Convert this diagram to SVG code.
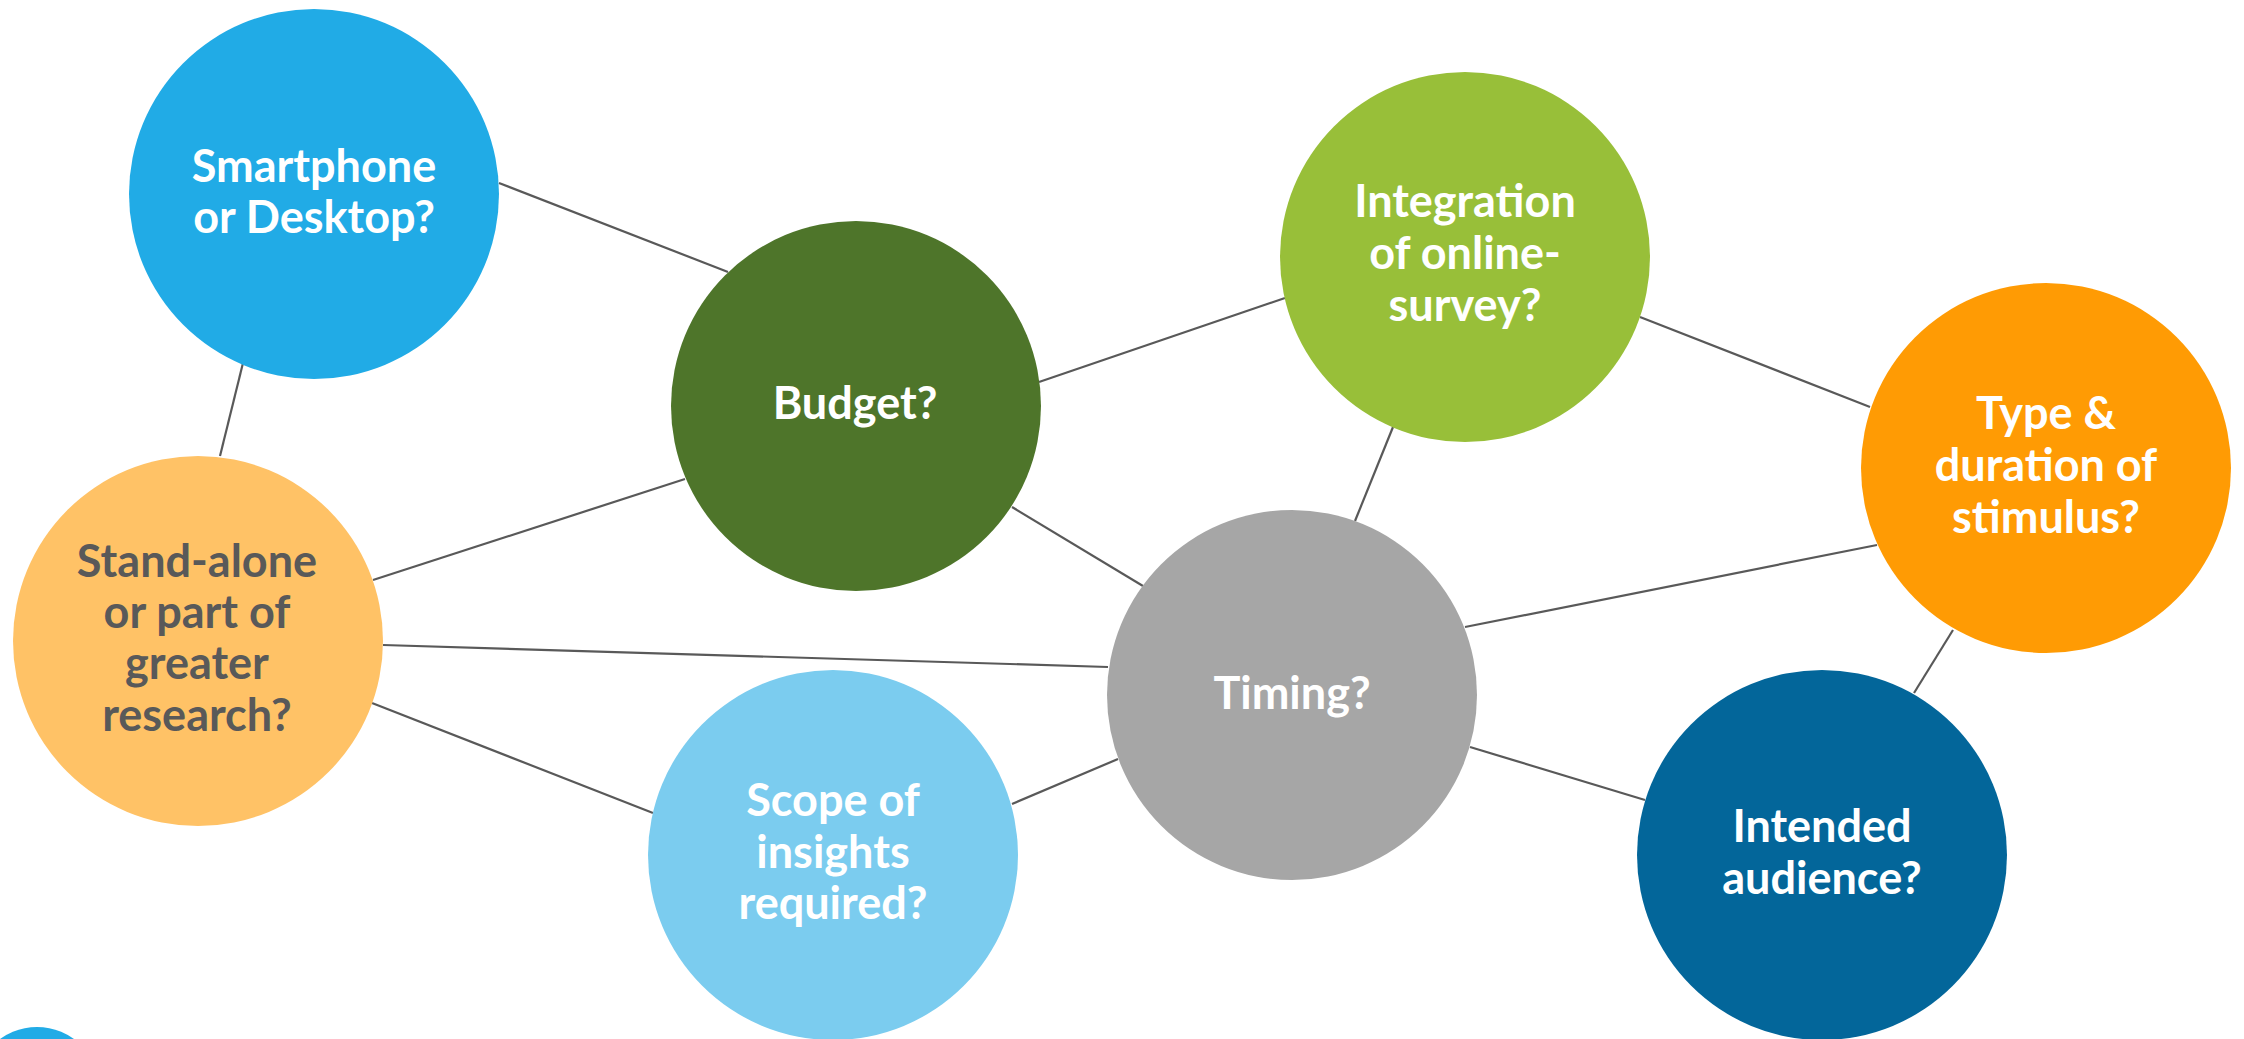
<svg xmlns="http://www.w3.org/2000/svg" width="2244" height="1039" viewBox="0 0 2244 1039">
<style>
.bg{fill:#ffffff}
.edge{stroke:#595959;stroke-width:2.2;fill:none;stroke-linecap:butt}
.lbl{font-family:Lato,"Open Sans","Liberation Sans",sans-serif;font-weight:700;font-size:45px;text-anchor:middle;fill:#ffffff}
.dark{fill:#595959}
</style>
<rect class="bg" x="0" y="0" width="2244" height="1039"/>
<g id="connectors">
<line class="edge" x1="499" y1="183" x2="728" y2="272"/>
<line class="edge" x1="243" y1="363" x2="220" y2="456"/>
<line class="edge" x1="685" y1="479" x2="373" y2="580"/>
<line class="edge" x1="1039" y1="382" x2="1285" y2="298"/>
<line class="edge" x1="1012" y1="507" x2="1143" y2="586"/>
<line class="edge" x1="1393" y1="427" x2="1355" y2="521"/>
<line class="edge" x1="1640" y1="317" x2="1870" y2="407"/>
<line class="edge" x1="1465" y1="627" x2="1877" y2="545"/>
<line class="edge" x1="1953" y1="630" x2="1914" y2="693"/>
<line class="edge" x1="1470" y1="747" x2="1645" y2="800"/>
<line class="edge" x1="383" y1="645" x2="1108" y2="667"/>
<line class="edge" x1="1012" y1="804" x2="1118" y2="759"/>
<line class="edge" x1="372" y1="703" x2="653" y2="813"/>
</g>
<g id="smartphone">
<circle cx="314" cy="194" r="185" fill="#21ABE6"/>
<text class="lbl" x="314" y="182">Smartphone</text>
<text class="lbl" x="314" y="233">or Desktop?</text>
</g>
<g id="standalone">
<circle cx="198" cy="641" r="185" fill="#FFC266"/>
<text class="lbl dark" x="197" y="577">Stand-alone</text>
<text class="lbl dark" x="197" y="628">or part of</text>
<text class="lbl dark" x="197" y="679">greater</text>
<text class="lbl dark" x="197" y="731">research?</text>
</g>
<g id="budget">
<circle cx="856" cy="406" r="185" fill="#4E752A"/>
<text class="lbl" x="855" y="419">Budget?</text>
</g>
<g id="integration">
<circle cx="1465" cy="257" r="185" fill="#98BF39"/>
<text class="lbl" x="1465" y="217">Integration</text>
<text class="lbl" x="1465" y="269">of online-</text>
<text class="lbl" x="1465" y="321">survey?</text>
</g>
<g id="type">
<circle cx="2046" cy="468" r="185" fill="#FF9B04"/>
<text class="lbl" x="2046" y="429">Type &amp;</text>
<text class="lbl" x="2046" y="481">duration of</text>
<text class="lbl" x="2046" y="533">stimulus?</text>
</g>
<g id="timing">
<circle cx="1292" cy="695" r="185" fill="#A6A6A6"/>
<text class="lbl" x="1292" y="709">Timing?</text>
</g>
<g id="scope">
<circle cx="833" cy="855" r="185" fill="#7BCCEF"/>
<text class="lbl" x="833" y="816">Scope of</text>
<text class="lbl" x="833" y="868">insights</text>
<text class="lbl" x="833" y="919">required?</text>
</g>
<g id="audience">
<circle cx="1822" cy="855" r="185" fill="#03669A"/>
<text class="lbl" x="1822" y="842">Intended</text>
<text class="lbl" x="1822" y="894">audience?</text>
</g>
<g id="corner-mark">
<circle cx="37" cy="1090" r="63" fill="#21ABE6"/>
</g>
</svg>
